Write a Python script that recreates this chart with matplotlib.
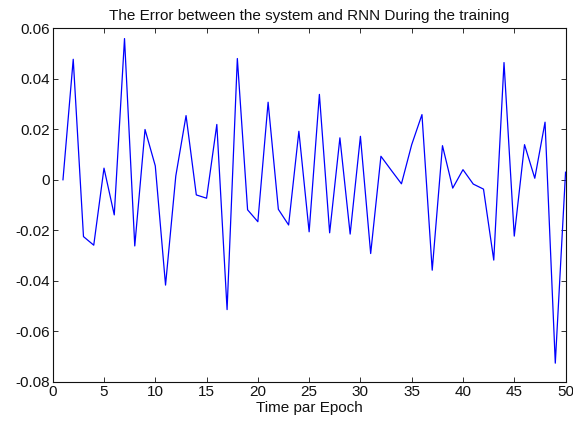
import matplotlib
matplotlib.use("Agg")
import matplotlib.pyplot as plt

epochs = list(range(1, 51))
error = [0.0, 0.0477, -0.0225, -0.0259, 0.0046, -0.0139, 0.0559, -0.0262, 0.0199, 0.0055,
         -0.0417, 0.0015, 0.0254, -0.0060, -0.0073, 0.0219, -0.0514, 0.0480, -0.0119, -0.0166,
         0.0307, -0.0117, -0.0179, 0.0192, -0.0206, 0.0338, -0.0210, 0.0166, -0.0215, 0.0172,
         -0.0292, 0.0093, 0.0038, -0.0016, 0.0139, 0.0258, -0.0358, 0.0135, -0.0033, 0.0040,
         -0.0017, -0.0037, -0.0318, 0.0464, -0.0223, 0.0139, 0.0006, 0.0228, -0.0726, 0.0030]
xticks = [0, 5, 10, 15, 20, 25, 30, 35, 40, 45, 50]
yticks = [-0.08, -0.06, -0.04, -0.02, 0, 0.02, 0.04, 0.06]
yticklabels = ["-0.08", "-0.06", "-0.04", "-0.02", "0", "0.02", "0.04", "0.06"]
title = "The Error between the system and RNN During the training"
xlabel = "Time par Epoch"

plt.rcParams['font.family'] = ['Liberation Sans', 'DejaVu Sans']
fig = plt.figure(figsize=(5.73, 4.21), dpi=100)
ax = fig.add_axes([0.092, 0.093, 0.895, 0.840])
ax.plot(epochs, error, color='#0000ff', linewidth=0.9)
ax.set_xlim(0, 50)
ax.set_ylim(-0.08, 0.06)
ax.set_xticks(xticks)
ax.set_xticklabels([str(t) for t in xticks])
ax.set_yticks(yticks)
ax.set_yticklabels(yticklabels)
ax.tick_params(direction='in', top=True, right=True, length=3.5, width=0.6,
               labelsize=11, colors='#111', pad=2)
for s in ax.spines.values():
    s.set_linewidth(0.8)
    s.set_color('#111')
ax.set_title(title, fontsize=11, color='#111', pad=6)
ax.set_xlabel(xlabel, fontsize=11, color='#111', labelpad=1.5)
fig.savefig("out.png", dpi=100)
